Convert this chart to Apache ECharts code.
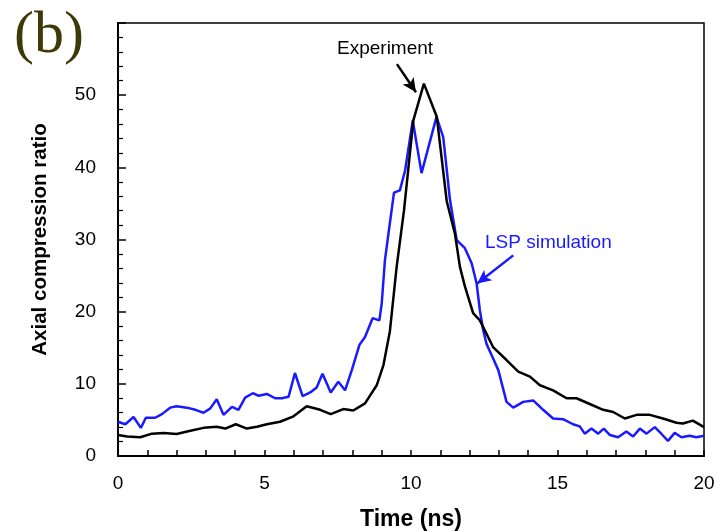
<!DOCTYPE html>
<html>
<head>
<meta charset="utf-8">
<style>
    html, body { margin: 0; padding: 0; background: #fff; }
    #main { width: 721px; height: 531px; }
</style>
<script src="https://cdn.jsdelivr.net/npm/echarts@6/dist/echarts.min.js"></script>
</head>
<body>
<div id="main"></div>
<script>
// experiment (black)
var expTime = [0, 0.31, 0.76, 1.16, 1.56, 2.0, 2.47, 2.92, 3.37, 3.66, 4.02, 4.4, 4.74, 5.08, 5.53, 5.99, 6.44, 6.9, 7.26, 7.69, 8.03, 8.43, 8.83, 9.06, 9.28, 9.51, 9.76, 10.08, 10.44, 10.88, 11.22, 11.5, 11.67, 11.84, 12.12, 12.35, 12.8, 13.26, 13.66, 14.06, 14.4, 14.85, 15.31, 15.65, 16.16, 16.56, 16.9, 17.3, 17.7, 18.15, 18.6, 19.06, 19.28, 19.62, 20];
var expRatio = [2.9, 2.7, 2.6, 3.1, 3.2, 3.05, 3.5, 3.9, 4.05, 3.8, 4.4, 3.8, 4.05, 4.4, 4.75, 5.5, 6.9, 6.4, 5.8, 6.5, 6.3, 7.3, 9.8, 12.6, 17.3, 26.2, 34.0, 46.5, 51.6, 47.0, 35.3, 30.8, 26.2, 23.5, 19.8, 18.8, 15.1, 13.3, 11.7, 11.0, 9.8, 9.1, 8.0, 8.0, 7.1, 6.4, 6.1, 5.2, 5.7, 5.7, 5.2, 4.6, 4.5, 4.9, 4.0];

// LSP simulation (blue)
var simTime = [0, 0.25, 0.53, 0.78, 0.95, 1.27, 1.5, 1.78, 2.0, 2.35, 2.64, 2.92, 3.15, 3.37, 3.6, 3.89, 4.11, 4.34, 4.6, 4.8, 5.08, 5.36, 5.59, 5.82, 6.04, 6.3, 6.56, 6.78, 6.98, 7.26, 7.52, 7.75, 7.98, 8.24, 8.43, 8.69, 8.92, 9.0, 9.11, 9.23, 9.34, 9.42, 9.62, 9.8, 10.06, 10.36, 10.87, 11.1, 11.33, 11.56, 11.84, 12.07, 12.24, 12.35, 12.46, 12.58, 12.75, 12.98, 13.26, 13.49, 13.83, 14.17, 14.51, 14.85, 15.19, 15.53, 15.76, 15.93, 16.16, 16.39, 16.58, 16.79, 17.07, 17.35, 17.58, 17.81, 18.04, 18.32, 18.55, 18.77, 19.0, 19.23, 19.51, 19.74, 20];
var simRatio = [4.75, 4.4, 5.4, 3.9, 5.3, 5.3, 5.8, 6.7, 6.9, 6.7, 6.4, 6.0, 6.6, 7.85, 5.7, 6.8, 6.4, 8.1, 8.7, 8.35, 8.6, 8.0, 8.0, 8.2, 11.5, 8.3, 8.8, 9.5, 11.4, 8.8, 10.3, 9.1, 11.9, 15.4, 16.5, 19.1, 18.8, 21.1, 27.1, 30.8, 34.1, 36.5, 36.8, 39.6, 46.5, 39.2, 47.0, 44.2, 35.5, 29.9, 28.8, 26.7, 23.9, 20.2, 17.5, 15.5, 14.0, 11.9, 7.5, 6.7, 7.5, 7.7, 6.4, 5.2, 5.1, 4.4, 4.1, 3.1, 3.8, 3.1, 3.8, 2.9, 2.6, 3.4, 2.7, 3.8, 3.1, 4.0, 3.05, 2.1, 3.2, 2.6, 2.8, 2.6, 2.8];

var xTicks = [0, 5, 10, 15, 20];
var yTicks = [0, 10, 20, 30, 40, 50];

function zip(a, b) {
    var out = [];
    for (var i = 0; i < a.length; i++) out.push([a[i], b[i]]);
    return out;
}

var chart = echarts.init(document.getElementById('main'));

var labelFont = {color: '#000', fontSize: 19, fontFamily: 'Liberation Sans'};

var option = {
    backgroundColor: '#fff',
    animation: false,
    grid: {
        left: 118, right: 17, top: 23, bottom: 75,
        outerBoundsMode: 'none',
        containLabel: false,
        show: true, borderColor: '#000', borderWidth: 1.5
    },
    xAxis: {
        type: 'value',
        min: xTicks[0], max: xTicks[xTicks.length - 1], interval: 5,
        name: 'Time (ns)',
        nameLocation: 'middle',
        nameGap: 52,
        nameTextStyle: {color: '#000', fontSize: 23, fontWeight: 'bold', fontFamily: 'Liberation Sans'},
        axisLine: {lineStyle: {color: '#000', width: 2}},
        axisTick: {inside: true, length: 6, lineStyle: {color: '#000', width: 1.5}},
        minorTick: {show: true, splitNumber: 5, length: 6, lineStyle: {color: '#000', width: 1.5}},
        axisLabel: Object.assign({margin: 18}, labelFont),
        splitLine: {show: false}
    },
    yAxis: {
        type: 'value',
        min: 0, max: 60, interval: 10,
        name: 'Axial compression ratio',
        nameLocation: 'middle',
        nameGap: 67,
        nameTextStyle: {color: '#000', fontSize: 20.5, fontWeight: 'bold', fontFamily: 'Liberation Sans'},
        axisLine: {lineStyle: {color: '#000', width: 2}},
        axisTick: {inside: true, length: 8, lineStyle: {color: '#000', width: 1.5}},
        minorTick: {show: true, splitNumber: 5, length: 5, lineStyle: {color: '#000', width: 1.2}},
        axisLabel: Object.assign({
            margin: 22,
            formatter: function (v) { return yTicks.indexOf(v) >= 0 ? String(v) : ''; }
        }, labelFont),
        splitLine: {show: false}
    },
    series: [
        {
            name: 'LSP simulation',
            type: 'line',
            data: zip(simTime, simRatio),
            showSymbol: false,
            lineStyle: {color: '#1a1aff', width: 2.5},
            z: 3,
            markLine: {
                silent: true,
                symbol: ['none', 'arrow'],
                symbolSize: [10, 14],
                label: {show: false},
                lineStyle: {color: '#1a1aff', width: 2.5, type: 'solid'},
                data: [[{coord: [13.49, 27.8]}, {coord: [12.26, 23.9]}]]
            }
        },
        {
            name: 'Experiment',
            type: 'line',
            data: zip(expTime, expRatio),
            showSymbol: false,
            lineStyle: {color: '#000', width: 2.5},
            z: 4,
            markLine: {
                silent: true,
                symbol: ['none', 'arrow'],
                symbolSize: [10, 14],
                label: {show: false},
                lineStyle: {color: '#000', width: 2.5, type: 'solid'},
                data: [[{coord: [9.52, 54.3]}, {coord: [10.17, 50.4]}]]
            }
        }
    ],
    graphic: [
        {
            type: 'text', left: 14, top: 6,
            style: {text: '(b)', fill: '#3d3a08', fontSize: 60, fontFamily: 'Liberation Serif'}
        },
        {
            type: 'text', left: 337, top: 39,
            style: {text: 'Experiment', fill: '#000', fontSize: 19, fontFamily: 'Liberation Sans'}
        },
        {
            type: 'text', left: 485, top: 233,
            style: {text: 'LSP simulation', fill: '#1a1aff', fontSize: 19, fontFamily: 'Liberation Sans'}
        }
    ]
};

chart.setOption(option);
</script>
</body>
</html>
